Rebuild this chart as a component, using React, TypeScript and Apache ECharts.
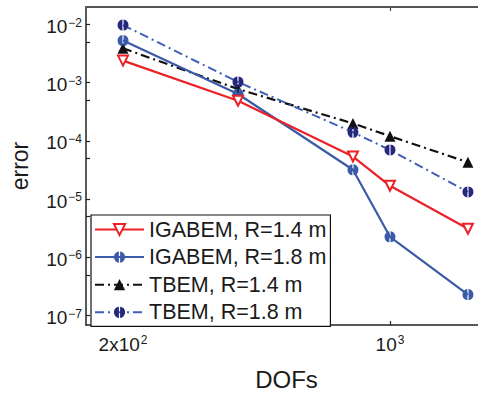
import React, { useEffect, useRef } from "react";
import * as echarts from "echarts";

// Degrees of freedom (x) and error values (y) for each method
const dofs = [200, 400, 800, 1000, 1600];
const igabemR14 = [2.4e-3, 4.9e-4, 5.4e-5, 1.7e-5, 3.1e-6];
const igabemR18 = [5.3e-3, 6.4e-4, 3.2e-5, 2.26e-6, 2.3e-7];
const tbemR14 = [3.9e-3, 7.8e-4, 2.0e-4, 1.21e-4, 4.3e-5];
const tbemR18 = [9.8e-3, 1.03e-3, 1.41e-4, 7.0e-5, 1.33e-5];

const seriesNames = [
  "IGABEM, R=1.4 m",
  "IGABEM, R=1.8 m",
  "TBEM, R=1.4 m",
  "TBEM, R=1.8 m",
];

// Axis ticks
const xTickValues = [200, 1000];
const xTopTickValues = [1000];
const yTickValues = [1e-7, 1e-6, 1e-5, 1e-4, 1e-3, 1e-2];
const yMinorTickValues = [5e-7, 5e-6, 5e-5, 5e-4, 5e-3];

// Circle split by a thin vertical slit
const splitCircle =
  "path://M-0.6,-5A5,5 0 0 0 -0.6,5Z M0.6,-5A5,5 0 0 1 0.6,5Z";

const FONT = "'Liberation Sans', Arial, Helvetica, sans-serif";

const pow10Label = (v: number) => {
  const e = Math.floor(Math.log10(v) + 1e-9);
  const m = Math.round(v / Math.pow(10, e));
  const exp = e < 0 ? `\u2212${-e}` : `${e}`;
  return m === 1 ? `{b|10}{s|${exp}}` : `{b|${m}x10}{s|${exp}}`;
};

const richLabel = {
  b: { fontSize: 19, fontFamily: FONT, color: "#1a1a1a", lineHeight: 20 },
  s: {
    fontSize: 12,
    fontFamily: FONT,
    color: "#1a1a1a",
    lineHeight: 12,
    verticalAlign: "top" as const,
    padding: [0, 0, 0, 1],
  },
};

const pairs = (ys: number[]) => dofs.map((x, i) => [x, ys[i]]);

export default function App() {
  const ref = useRef<HTMLDivElement>(null);

  useEffect(() => {
    if (!ref.current) return;
    const chart = echarts.init(ref.current, undefined, { renderer: "svg" });

    const xMin = 160;
    const xMax = 1700;
    const yMin = 6.9e-8;
    const yMax = 0.02;

    chart.setOption({
      animation: false,
      backgroundColor: "#ffffff",
      grid: { left: 82, top: 7, right: 0, bottom: 62 },
      xAxis: [
        {
          type: "log",
          logBase: 10,
          min: xMin,
          max: xMax,
          position: "bottom",
          name: "DOFs",
          nameLocation: "middle",
          nameGap: 42,
          nameTextStyle: {
            fontSize: 24,
            fontFamily: FONT,
            color: "#1a1a1a",
            padding: [0, 0, 0, 9],
          },
          axisLine: { lineStyle: { color: "#222", width: 1.5 } },
          axisTick: {
            inside: true,
            length: 4,
            customValues: xTickValues,
            lineStyle: { color: "#222", width: 1.2 },
          },
          axisLabel: {
            customValues: xTickValues,
            margin: 9,
            fontSize: 19,
            fontFamily: FONT,
            color: "#1a1a1a",
            formatter: pow10Label,
            rich: richLabel,
          },
          splitLine: { show: false },
          minorTick: { show: false },
        },
        {
          type: "log",
          logBase: 10,
          min: xMin,
          max: xMax,
          position: "top",
          axisLine: { lineStyle: { color: "#555", width: 2 } },
          axisTick: {
            inside: true,
            length: 4,
            customValues: xTopTickValues,
            lineStyle: { color: "#444", width: 1.2 },
          },
          axisLabel: { show: false },
          splitLine: { show: false },
        },
      ],
      yAxis: [
        {
          type: "log",
          logBase: 10,
          min: yMin,
          max: yMax,
          name: "error",
          nameLocation: "middle",
          nameGap: 55,
          nameTextStyle: { fontSize: 23, fontFamily: FONT, color: "#1a1a1a" },
          axisLine: { lineStyle: { color: "#222", width: 1.5 } },
          axisTick: {
            inside: true,
            length: 4,
            customValues: [...yTickValues, ...yMinorTickValues],
            lineStyle: { color: "#222", width: 1.2 },
          },
          axisLabel: {
            customValues: yTickValues,
            margin: 4,
            fontSize: 19,
            fontFamily: FONT,
            color: "#1a1a1a",
            padding: [4, 0, 0, 0],
            formatter: pow10Label,
            rich: richLabel,
          },
          splitLine: { show: false },
        },
      ],
      legend: {
        orient: "vertical",
        left: 91,
        top: 215,
        data: seriesNames,
        itemWidth: 49,
        itemHeight: 14,
        itemGap: 5.6,
        padding: [3.5, 4, 3, 3],
        backgroundColor: "#ffffff",
        borderColor: "#111",
        borderWidth: 1.2,
        borderRadius: 0,
        textStyle: {
          fontSize: 21.5,
          lineHeight: 20,
          fontFamily: FONT,
          color: "#1a1a1a",
        },
        selectedMode: false,
      },
      series: [
        {
          name: seriesNames[0],
          type: "line",
          data: pairs(igabemR14),
          symbol: "triangle",
          symbolRotate: 180,
          symbolSize: 10,
          lineStyle: { color: "#ec2127", width: 2.2 },
          itemStyle: { color: "#ffffff", borderColor: "#ec2127", borderWidth: 2 },
          z: 4,
        },
        {
          name: seriesNames[1],
          type: "line",
          data: pairs(igabemR18),
          symbol: splitCircle,
          symbolSize: 11,
          lineStyle: { color: "#3b5aa8", width: 2.2 },
          itemStyle: { color: "#3b5aa8", borderWidth: 0 },
          z: 3,
        },
        {
          name: seriesNames[2],
          type: "line",
          data: pairs(tbemR14),
          symbol: "triangle",
          symbolSize: 11,
          lineStyle: { color: "#111", width: 2.2, type: [9, 4, 2, 4] },
          itemStyle: { color: "#111", borderWidth: 0 },
          z: 2,
        },
        {
          name: seriesNames[3],
          type: "line",
          data: pairs(tbemR18),
          symbol: splitCircle,
          symbolSize: 11,
          lineStyle: { color: "#3f5fb8", width: 2, type: [9, 4, 2, 4] },
          itemStyle: { color: "#26287a", borderWidth: 0 },
          z: 2,
        },
      ],
    });

    return () => chart.dispose();
  }, []);

  return (
    <div
      ref={ref}
      style={{ position: "fixed", left: 0, top: 0, width: 478, height: 396 }}
    />
  );
}
